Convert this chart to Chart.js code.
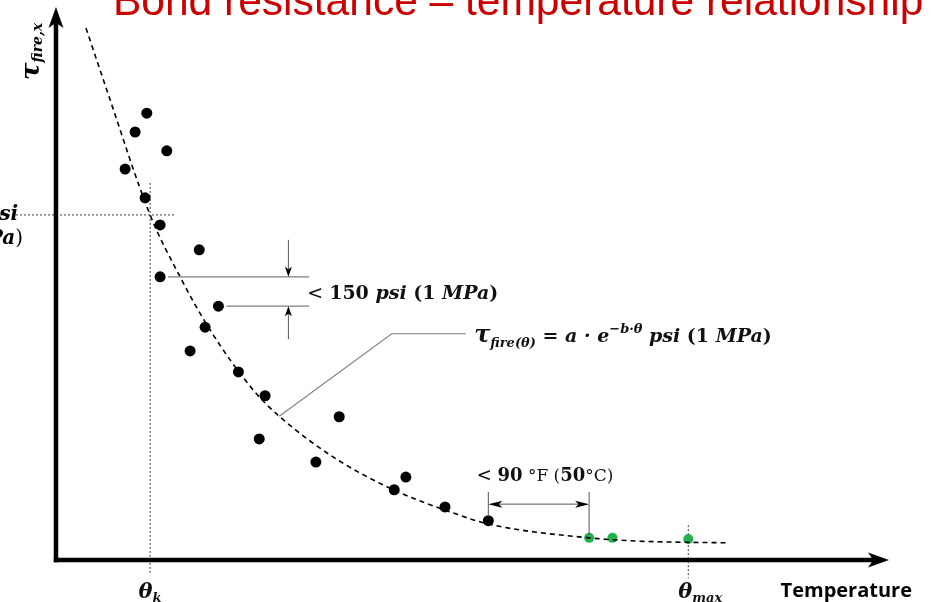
<!DOCTYPE html>
<html>
<head>
<meta charset="utf-8">
<script src="https://cdn.jsdelivr.net/npm/chart.js@4"></script>
<style>
  html, body { margin: 0; padding: 0; background: #fff; }
  canvas { display: block; }
</style>
</head>
<body>
<canvas id="bondChart" width="932" height="602"></canvas>
<script>
// --- datos (unidades relativas: temperatura 0-100, adherencia 0-100) ---
const testTemp = [10.9, 9.5, 13.3, 8.3, 10.7, 12.5, 17.2, 12.5, 19.5, 17.9, 16.1, 21.9, 25.1, 34.0, 24.4, 31.2, 42.0, 40.6, 46.7, 51.9];
const testBond = [80.8, 77.4, 74.0, 70.7, 65.5, 60.6, 56.1, 51.2, 45.9, 42.1, 37.8, 34.0, 29.7, 25.9, 21.9, 17.7, 15.0, 12.7, 9.6, 7.1];
const lastTemp = [64.0, 66.8, 75.9];
const lastBond = [4.0, 4.0, 3.8];
const fitTemp = [3.6, 6.1, 11.3, 14.9, 18.5, 23.7, 26.8, 33.3, 40.5, 47.7, 51.9, 64.0, 70.1, 80.6];
const fitBond = [96.2, 85.0, 62.4, 51.2, 41.6, 30.7, 26.0, 18.6, 12.7, 8.5, 6.5, 4.0, 3.4, 3.1];

const thetaK = fitTemp[2];
const tauK = fitBond[2];
const thetaMax = lastTemp[2];

const toXY = (xs, ys) => xs.map((x, i) => ({ x: x, y: ys[i] }));

const SERIF = '"DejaVu Serif"';

// dibuja varios trozos de texto con fuentes distintas en una línea
function drawRuns(ctx, x, y, parts, align) {
    let total = 0;
    parts.forEach(p => { ctx.font = p.f; total += ctx.measureText(p.t).width; });
    let cx = align === 'right' ? x - total : (align === 'center' ? x - total / 2 : x);
    parts.forEach(p => {
        ctx.font = p.f;
        ctx.fillText(p.t, cx, y + (p.dy || 0));
        cx += ctx.measureText(p.t).width;
    });
}

function line(ctx, x1, y1, x2, y2) {
    ctx.beginPath();
    ctx.moveTo(x1, y1);
    ctx.lineTo(x2, y2);
    ctx.stroke();
}

// flecha pequeña rellena, punta en (x,y), dirección (dx,dy)
function arrowHead(ctx, x, y, dx, dy, len, half) {
    const nx = -dy, ny = dx;
    ctx.beginPath();
    ctx.moveTo(x, y);
    ctx.lineTo(x - dx * len + nx * half, y - dy * len + ny * half);
    ctx.lineTo(x - dx * len * 0.75, y - dy * len * 0.75);
    ctx.lineTo(x - dx * len - nx * half, y - dy * len - ny * half);
    ctx.closePath();
    ctx.fill();
}

const diagramPlugin = {
    id: 'diagram',
    beforeDatasetsDraw(chart) {
        const ctx = chart.ctx;
        const sx = chart.scales.x, sy = chart.scales.y;
        const X = v => sx.getPixelForValue(v), Y = v => sy.getPixelForValue(v);
        ctx.save();
        // líneas de referencia punteadas
        ctx.strokeStyle = '#222';
        ctx.lineWidth = 0.9;
        ctx.setLineDash([2, 2]);
        line(ctx, X(sx.min), Y(tauK), X(14.4), Y(tauK));
        line(ctx, X(thetaK), Y(68.2), X(thetaK), Y(-2.7));
        line(ctx, X(thetaMax), Y(6.3), X(thetaMax), Y(-3.3));
        ctx.setLineDash([]);
        ctx.restore();
    },
    afterDatasetsDraw(chart) {
        const ctx = chart.ctx;
        const sx = chart.scales.x, sy = chart.scales.y;
        const X = v => sx.getPixelForValue(v), Y = v => sy.getPixelForValue(v);
        ctx.save();
        ctx.textBaseline = 'alphabetic';

        // --- ejes con flechas ---
        const x0 = X(0), y0 = Y(0), xEnd = X(100), yEnd = Y(100);
        ctx.strokeStyle = '#000';
        ctx.fillStyle = '#000';
        ctx.lineWidth = 4.5;
        ctx.lineCap = 'butt';
        line(ctx, x0, y0 + 2.2, x0, yEnd + 16);
        line(ctx, x0 - 2.2, y0, xEnd - 16, y0);
        arrowHead(ctx, x0, yEnd, 0, -1, 21, 7.5);
        arrowHead(ctx, xEnd, y0, 1, 0, 21, 7.5);

        // --- cota < 150 psi ---
        ctx.strokeStyle = '#7f7f7f';
        ctx.lineWidth = 1.3;
        const yUp = Y(testBond[7]), yLo = Y(testBond[8]);
        const dimR = X(30.4), dimX = X(27.9);
        line(ctx, X(testTemp[7]) + 8, yUp, dimR, yUp);
        line(ctx, X(testTemp[8]) + 8, yLo, dimR, yLo);
        ctx.strokeStyle = '#555';
        ctx.lineWidth = 1;
        line(ctx, dimX, yUp - 37, dimX, yUp - 8);
        line(ctx, dimX, yLo + 33, dimX, yLo + 8);
        ctx.fillStyle = '#000';
        arrowHead(ctx, dimX, yUp, 0, 1, 10, 3.5);
        arrowHead(ctx, dimX, yLo, 0, -1, 10, 3.5);

        ctx.fillStyle = '#111';
        drawRuns(ctx, dimR - 2, (yUp + yLo) / 2 + 7, [
            { t: '< ', f: '19px ' + SERIF },
            { t: '150 ', f: 'bold 19px ' + SERIF },
            { t: 'psi ', f: 'bold italic 19px ' + SERIF },
            { t: '(1 ', f: 'bold 19px ' + SERIF },
            { t: 'MPa', f: 'bold italic 19px ' + SERIF },
            { t: ')', f: 'bold 19px ' + SERIF }
        ]);

        // --- línea guía de la ecuación ---
        ctx.strokeStyle = '#7f7f7f';
        ctx.lineWidth = 1.1;
        const gy = Y(40.9);
        ctx.beginPath();
        ctx.moveTo(X(fitTemp[6]), Y(fitBond[6]));
        ctx.lineTo(X(40.3), gy);
        ctx.lineTo(X(49.2), gy);
        ctx.stroke();
        ctx.fillStyle = '#111';
        drawRuns(ctx, X(50.2), gy + 8, [
            { t: 'τ', f: 'bold italic 24px ' + SERIF },
            { t: 'fire(θ)', f: 'bold italic 13px ' + SERIF, dy: 5 },
            { t: ' = ', f: 'bold 19px ' + SERIF },
            { t: 'a · e', f: 'bold italic 19px ' + SERIF },
            { t: '−b·θ', f: 'bold italic 13px ' + SERIF, dy: -9 },
            { t: ' psi ', f: 'bold italic 19px ' + SERIF },
            { t: '(1 ', f: 'bold 19px ' + SERIF },
            { t: 'MPa', f: 'bold italic 19px ' + SERIF },
            { t: ')', f: 'bold 19px ' + SERIF }
        ]);

        // --- cota < 90 °F ---
        const lx = X(testTemp[19]), rx = X(lastTemp[0]);
        const topY = Y(12.3), ay = Y(10.1);
        ctx.strokeStyle = '#555';
        ctx.lineWidth = 1;
        line(ctx, lx, topY, lx, Y(testBond[19]) - 4);
        line(ctx, rx, topY, rx, Y(lastBond[0]) - 3);
        line(ctx, lx + 8, ay, rx - 8, ay);
        ctx.fillStyle = '#000';
        arrowHead(ctx, lx, ay, -1, 0, 14, 3.5);
        arrowHead(ctx, rx, ay, 1, 0, 14, 3.5);
        ctx.fillStyle = '#111';
        drawRuns(ctx, X(50.5), Y(15.6) + 7, [
            { t: '< ', f: '18px ' + SERIF },
            { t: '90', f: 'bold 18px ' + SERIF },
            { t: ' °F (', f: '17px ' + SERIF },
            { t: '50', f: 'bold 18px ' + SERIF },
            { t: '°C)', f: '17px ' + SERIF }
        ]);

        // --- etiquetas de eje ---
        ctx.fillStyle = '#111';
        drawRuns(ctx, X(thetaK), 598, [
            { t: 'θ', f: 'bold italic 21px ' + SERIF },
            { t: 'k', f: 'bold italic 13px ' + SERIF, dy: 4 }
        ], 'center');
        drawRuns(ctx, X(thetaMax) + 12, 598, [
            { t: 'θ', f: 'bold italic 21px ' + SERIF },
            { t: 'max', f: 'bold italic 13px ' + SERIF, dy: 4 }
        ], 'center');

        ctx.fillStyle = '#000';
        ctx.font = 'bold 20px "Open Sans"';
        ctx.textAlign = 'right';
        ctx.fillText('Temperature', 912, 597);
        ctx.textAlign = 'left';

        // etiqueta vertical τ fire,x
        ctx.save();
        ctx.translate(39, 80);
        ctx.rotate(-Math.PI / 2);
        drawRuns(ctx, 0, 0, [
            { t: 'τ', f: 'bold italic 26px ' + SERIF },
            { t: 'fire,x', f: 'bold italic 14px ' + SERIF, dy: 3 }
        ]);
        ctx.restore();

        // etiquetas cortadas a la izquierda
        drawRuns(ctx, 18, Y(tauK) + 5, [
            { t: 'τ', f: 'bold italic 20px ' + SERIF },
            { t: 'k', f: 'bold italic 13px ' + SERIF, dy: 4 },
            { t: ' psi', f: 'bold italic 20px ' + SERIF }
        ], 'right');
        drawRuns(ctx, 23, Y(tauK) + 29, [
            { t: '(', f: '20px ' + SERIF },
            { t: 'τ', f: 'bold italic 20px ' + SERIF },
            { t: 'k', f: 'bold italic 13px ' + SERIF, dy: 4 },
            { t: ' MPa', f: 'bold italic 20px ' + SERIF },
            { t: ')', f: '20px ' + SERIF }
        ], 'right');

        // --- título (cortado arriba) ---
        ctx.fillStyle = '#cc0000';
        ctx.font = '42.5px "Liberation Sans"';
        ctx.fillText('Bond resistance – temperature relationship', 113, 15);

        ctx.restore();
    }
};

const ctx = document.getElementById('bondChart');

new Chart(ctx, {
    type: 'scatter',
    data: {
        datasets: [
            {
                label: 'Ensayos',
                data: toXY(testTemp, testBond),
                backgroundColor: '#000',
                borderColor: '#000',
                pointRadius: 5.5,
                pointBorderWidth: 0,
                order: 0
            },
            {
                label: 'Ajuste',
                type: 'line',
                data: toXY(fitTemp, fitBond),
                borderColor: '#000',
                borderWidth: 1.6,
                borderDash: [5, 4],
                pointRadius: 0,
                fill: false,
                cubicInterpolationMode: 'monotone',
                order: 1
            },
            {
                label: 'Máximo',
                data: toXY(lastTemp, lastBond),
                backgroundColor: '#22b14c',
                borderColor: '#22b14c',
                pointRadius: 5,
                pointBorderWidth: 0,
                order: 2
            }
        ]
    },
    options: {
        responsive: false,
        animation: false,
        events: [],
        layout: { padding: 0, autoPadding: false },
        scales: {
            x: { type: 'linear', display: false, min: -6.72, max: 105.16 },
            y: { type: 'linear', display: false, min: -7.6, max: 101.27 }
        },
        plugins: {
            legend: { display: false },
            tooltip: { enabled: false },
            title: { display: false }
        }
    },
    plugins: [diagramPlugin]
});
</script>
</body>
</html>
